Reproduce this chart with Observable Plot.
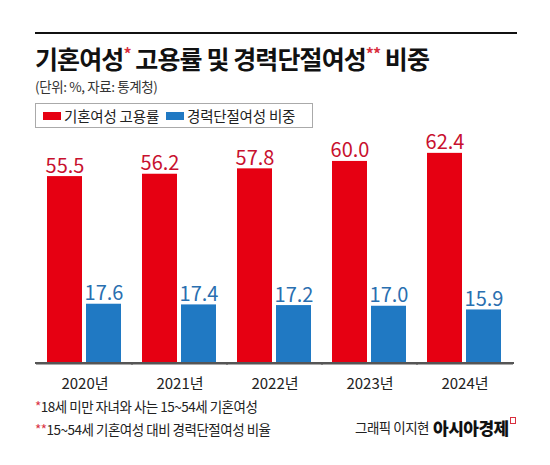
<!DOCTYPE html>
<html><head><meta charset="utf-8">
<script src="https://cdn.jsdelivr.net/npm/d3@7"></script>
<script src="https://cdn.jsdelivr.net/npm/@observablehq/plot@0.6"></script>
<style>
html,body{margin:0;padding:0;background:#fff;}
body{width:550px;height:465px;position:relative;overflow:hidden;font-family:"Noto Sans CJK KR","Noto Sans",sans-serif;color:#222;}
.abs{position:absolute;line-height:1;white-space:nowrap;}
#rule{position:absolute;left:35px;top:32px;width:482px;height:0;border-top:2px solid #111;}
#title{left:35px;top:46px;font-size:25px;font-weight:bold;letter-spacing:-0.9px;color:#111;}
.star{color:#d9303f;font-size:16px;vertical-align:top;position:relative;top:-1px;letter-spacing:-1px;}
#sub{left:35px;top:80px;font-size:13.5px;color:#333;letter-spacing:-0.4px;}
#legend{position:absolute;left:35px;top:103px;width:276px;height:23px;border:1px solid #aaa;display:flex;align-items:center;font-size:14.5px;color:#222;letter-spacing:-0.2px;}
.sw{display:inline-block;width:18px;height:8px;margin-right:3px;}
.item{display:flex;align-items:center;margin-left:7px;}
#chart{position:absolute;left:0;top:128px;}
.note{left:35px;font-size:13.5px;color:#222;letter-spacing:-0.5px;}
.note .s{color:#d9303f;}
#credit{left:355px;top:421px;font-size:13.5px;color:#222;letter-spacing:-0.5px;}
#brand{left:433px;top:419px;font-size:17px;font-weight:900;color:#111;letter-spacing:-0.5px;}
#icon{position:absolute;left:510px;top:417px;width:4px;height:5px;border:1.5px solid #d9303f;}
</style></head>
<body>
<div id="rule"></div>
<div id="title" class="abs">기혼여성<span class="star">*</span> 고용률 및 경력단절여성<span class="star">**</span> 비중</div>
<div id="sub" class="abs">(단위: %, 자료: 통계청)</div>
<div id="legend"></div>
<div id="chart"></div>
<div class="abs note" style="top:400px"><span class="s">*</span>18세 미만 자녀와 사는 15~54세 기혼여성</div>
<div class="abs note" style="top:423px"><span class="s">**</span>15~54세 기혼여성 대비 경력단절여성 비율</div>
<div id="credit" class="abs">그래픽 이지현</div>
<div id="brand" class="abs">아시아경제</div>
<div id="icon"></div>
<script>
const years = ["2020년", "2021년", "2022년", "2023년", "2024년"];
const seriesNames = ["기혼여성 고용률", "경력단절여성 비중"];
const employmentRate = [55.5, 56.2, 57.8, 60.0, 62.4];
const careerBreakShare = [17.6, 17.4, 17.2, 17.0, 15.9];
const barColors = ["#e60012", "#2079c3"];
const labelColors = ["#c8102e", "#2a6fb0"];

const rows = years.flatMap((yr, i) => [
  {year: yr, series: seriesNames[0], value: employmentRate[i]},
  {year: yr, series: seriesNames[1], value: careerBreakShare[i]}
]);

// legend
const legend = document.getElementById("legend");
seriesNames.forEach((name, i) => {
  const it = document.createElement("span");
  it.className = "item";
  it.innerHTML = `<span class="sw" style="background:${barColors[i]}"></span>${name}`;
  legend.appendChild(it);
});

const chart = Plot.plot({
  width: 550,
  height: 272,
  marginLeft: 35,
  marginRight: 36,
  marginTop: 6,
  marginBottom: 37,
  style: {fontFamily: "Noto Sans CJK KR, sans-serif", fontSize: "15px", color: "#222", overflow: "visible"},
  fx: {domain: years, axis: "bottom", label: null, tickSize: 0, tickPadding: 15, paddingInner: 0.21, paddingOuter: 0.12},
  x: {domain: seriesNames, axis: null, paddingInner: 0.1, paddingOuter: 0},
  y: {domain: [0, 68], axis: null},
  color: {domain: seriesNames, range: barColors},
  marks: [
    Plot.barY(rows, {fx: "year", x: "series", y: "value", fill: "series"}),
    Plot.ruleY([0], {stroke: "#555", strokeWidth: 2, insetLeft: -11, insetRight: -11}),
    Plot.text(rows, {
      fx: "year", x: "series", y: "value",
      text: d => d.value.toFixed(1),
      fill: d => labelColors[seriesNames.indexOf(d.series)],
      lineAnchor: "bottom", dy: -4,
      fontSize: 20, letterSpacing: -1
    })
  ]
});

// baseline spanning all facets, positioned from Plot's own scales
const fxRange = chart.scale("fx").range;
const y0 = chart.scale("y").apply(0);
d3.select(chart).append("line")
  .attr("x1", fxRange[0]).attr("x2", fxRange[1])
  .attr("y1", y0).attr("y2", y0)
  .attr("stroke", "#555").attr("stroke-width", 2);

document.getElementById("chart").appendChild(chart);
</script>
</body></html>
